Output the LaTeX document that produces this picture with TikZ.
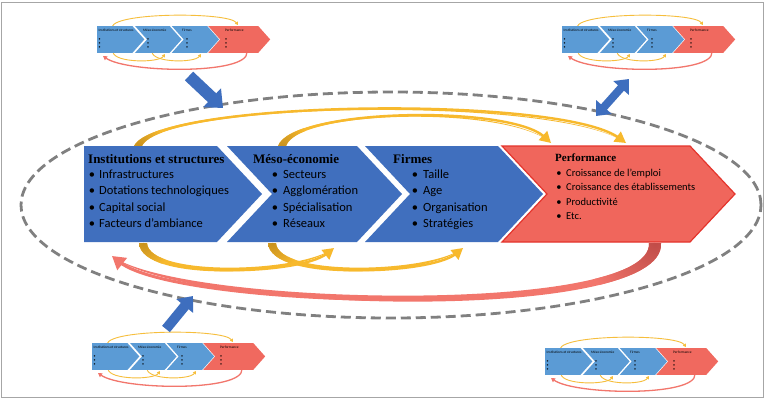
\documentclass[tikz,border=0pt]{standalone}
\usepackage{fontspec}
\setmainfont{Carlito}
\newfontfamily\hdrfont{Liberation Serif}
\usetikzlibrary{arrows.meta,calc}
\definecolor{boxblue}{RGB}{64,111,190}
\definecolor{boxred}{RGB}{240,102,92}
\definecolor{boxredline}{RGB}{228,52,44}
\definecolor{thblue}{RGB}{91,155,213}
\definecolor{thred}{RGB}{240,105,95}
\definecolor{thgold}{RGB}{246,190,60}
\definecolor{arcgold}{RGB}{247,185,45}
\definecolor{arcgolddark}{RGB}{200,145,30}
\definecolor{arcred}{RGB}{242,118,108}
\definecolor{arcreddark}{RGB}{192,76,72}
\definecolor{arrblue}{RGB}{62,110,190}
\definecolor{dashgray}{RGB}{128,128,128}
\tikzset{
 hdr/.style={anchor=base west, inner sep=0pt, font=\hdrfont\bfseries\fontsize{13}{15}\selectfont},
 hdrsm/.style={anchor=base west, inner sep=0pt, font=\hdrfont\bfseries\fontsize{11}{13}\selectfont},
 itm/.style={anchor=base west, inner sep=0pt, font=\fontsize{12.5}{15}\selectfont},
 itmsm/.style={anchor=base west, inner sep=0pt, font=\fontsize{10.5}{13}\selectfont},
 bul/.style={anchor=base, inner sep=0pt, font=\fontsize{12.5}{15}\selectfont},
 bulsm/.style={anchor=base, inner sep=0pt, font=\fontsize{10.5}{13}\selectfont},
 thhdr/.style={anchor=base west, inner sep=0pt, font=\fontsize{3.5}{4}\selectfont},
 thbul/.style={anchor=base, inner sep=0pt, font=\fontsize{4}{4}\selectfont},
 blockarr/.style={arrblue, line cap=butt},
 goldline/.style={arcgold, line width=2.4pt},
 goldtip/.style={arcgold, line width=2.4pt, -{Triangle[length=11pt,width=12pt]}},
}
\newcommand\chevpaths[2]{%
 \fill[#1] (0,0) -- (133,0) -- (178,48) -- (133,96) -- (0,96) -- cycle;
 \fill[#1] (143,0) -- (273,0) -- (318,48) -- (273,96) -- (143,96) -- (188,48) -- cycle;
 \fill[#1] (281,0) -- (414,0) -- (459,48) -- (414,96) -- (281,96) -- (326,48) -- cycle;
 \path[#2] (418,0) -- (606,0) -- (651,48) -- (606,96) -- (418,96) -- (463,48) -- cycle;
}
\newcommand\bitem[6]{%
 \node[bul#2] (#1b) at (#3,#5) {\textbullet};
 \node[itm#2] (#1) at (#4,#5) {#6};
}
% tapered body: #1 taper path, #2 start point, #3 dark colour, #4 light colour, #5 radius
\newcommand\taperbody[5]{%
 \fill[#4] #1;
 \begin{scope}
  \clip #1;
  \shade[inner color=#3, outer color=#4] #2 circle (#5);
 \end{scope}
}
\newcommand\thumbdiag[3]{%
\begin{scope}[shift={(#1,#2)}]
 \draw[thgold, line width=0.9pt, -{Triangle[length=3pt,width=3.5pt]}] (15,1) .. controls (18,-14) and (132,-14) .. (141,-1);
 \draw[thgold, line width=0.9pt, -{Triangle[length=3pt,width=3.5pt]}] (16,26) .. controls (17,37) and (62,37) .. (68,28);
 \draw[thgold, line width=0.9pt, -{Triangle[length=3pt,width=3.5pt]}] (55,26) .. controls (56,37) and (98,37) .. (104,28);
 \draw[arcred, line width=1.3pt, -{Triangle[length=4pt,width=4.5pt]}] (150,26) .. controls (152,49) and (30,47) .. (6,30);
 \begin{scope}[xscale=0.266, yscale=0.28]
  \chevpaths{fill=thblue}{fill=thred}
 \end{scope}
 \node[thhdr] (#3h1) at (1.5,5.8) {Institutions et structures};
 \node[thhdr] (#3h2) at (46,5.8) {Méso-économie};
 \node[thhdr] (#3h3) at (85,5.8) {Firmes};
 \node[thhdr] (#3h4) at (128,5.8) {Performance};
 \foreach \bx [count=\i] in {2.5,51,90,129} {
  \foreach \by [count=\j] in {14,18,22} {
   \node[thbul] (#3b\i\j) at (\bx,\by) {\textbullet};
  }
 }
\end{scope}}
\begin{document}
\begin{tikzpicture}[x=1pt,y=-1pt]
\useasboundingbox (0,0) rectangle (765,400);
\fill[white] (0,0) rectangle (765,400);
\draw[gray!70, line width=1pt] (1.5,2.5) rectangle (763.5,397.5);

% dashed ellipse
\draw[dashgray, line width=2.8pt, dash pattern=on 10pt off 5pt] (391,205) ellipse [x radius=370pt, y radius=113pt];

% thumbnails
\thumbdiag{97}{26}{ta}
\thumbdiag{562}{26}{tb}
\thumbdiag{92}{343}{tc}
\thumbdiag{545}{348}{td}

% connection points
\coordinate (s1) at (138,146);
\coordinate (e1) at (626,143);
\coordinate (s2) at (282,146);
\coordinate (e2) at (551,143);
\coordinate (s3) at (143,243);
\coordinate (e3) at (334,248);
\coordinate (s4) at (272,243);
\coordinate (e4) at (463,248);
\coordinate (s5) at (655,243);
\coordinate (e5) at (112,256);

% top gold arcs
\draw[goldline] (s1) .. controls (160,100) and (560,95) .. ($(e1)!9pt!(560,95)$);
\taperbody{(134,146) .. controls (157,99) and (560,94) .. (e1) .. controls (560,96) and (163,101) .. (142,146) -- cycle}{(s1)}{arcgolddark}{arcgold}{28pt}
\draw[goldtip] ($(e1)!11pt!(560,95)$) -- (e1);
\draw[goldline] (s2) .. controls (295,108) and (510,105) .. ($(e2)!9pt!(510,105)$);
\taperbody{(278,146) .. controls (292,107) and (510,104) .. (e2) .. controls (510,106) and (298,109) .. (286,146) -- cycle}{(s2)}{arcgolddark}{arcgold}{28pt}
\draw[goldtip] ($(e2)!11pt!(510,105)$) -- (e2);

% bottom gold arcs
\draw[goldline] (s3) .. controls (145,280) and (300,275) .. ($(e3)!9pt!(300,275)$);
\taperbody{(139,243) .. controls (141,283) and (300,277) .. (e3) .. controls (300,273) and (149,277) .. (147,243) -- cycle}{(s3)}{arcgolddark}{arcgold}{28pt}
\draw[goldtip] ($(e3)!11pt!(300,275)$) -- (e3);
\draw[goldline] (s4) .. controls (274,280) and (430,275) .. ($(e4)!9pt!(430,275)$);
\taperbody{(268,243) .. controls (270,283) and (430,277) .. (e4) .. controls (430,273) and (278,277) .. (276,243) -- cycle}{(s4)}{arcgolddark}{arcgold}{28pt}
\draw[goldtip] ($(e4)!11pt!(430,275)$) -- (e4);

% red return arc
\draw[arcred, line width=3pt] (s5) .. controls (660,320) and (180,310) .. ($(e5)!10pt!(180,310)$);
\taperbody{(649,243) .. controls (653,316) and (180,306) .. (e5) .. controls (180,313) and (667,325) .. (661,243) -- cycle}{(s5)}{arcreddark}{arcred}{70pt}
\draw[arcred, line width=3pt, -{Triangle[length=13pt,width=15pt]}] ($(e5)!13pt!(180,310)$) -- (e5);

% main chevrons
\begin{scope}[shift={(84,146)}]
 \chevpaths{fill=boxblue}{fill=boxred, draw=boxredline, line width=1.2pt}
\end{scope}

% texts
\node[hdr] (h1) at (88,163) {Institutions et structures};
\bitem{i11}{}{92}{99}{178.5}{Infrastructures}
\bitem{i12}{}{92}{99}{194.8}{Dotations technologiques}
\bitem{i13}{}{92}{99}{211}{Capital social}
\bitem{i14}{}{92}{99}{227.2}{Facteurs d’ambiance}

\node[hdr] (h2) at (253,163) {Méso-économie};
\bitem{i21}{}{275}{283}{178.5}{Secteurs}
\bitem{i22}{}{275}{283}{194.8}{Agglomération}
\bitem{i23}{}{275}{283}{211}{Spécialisation}
\bitem{i24}{}{275}{283}{227.2}{Réseaux}

\node[hdr] (h3) at (393,163) {Firmes};
\bitem{i31}{}{415}{423}{178.5}{Taille}
\bitem{i32}{}{415}{423}{194.8}{Age}
\bitem{i33}{}{415}{423}{211}{Organisation}
\bitem{i34}{}{415}{423}{227.2}{Stratégies}

\node[hdrsm] (h4) at (555,161.5) {Performance};
\bitem{i41}{sm}{559}{566}{176}{Croissance de l’emploi}
\bitem{i42}{sm}{559}{566}{190.5}{Croissance des établissements}
\bitem{i43}{sm}{559}{566}{205}{Productivité}
\bitem{i44}{sm}{559}{566}{219.5}{Etc.}

% blue block arrows
\coordinate (a1t) at (189,76);
\coordinate (a1h) at (223,108);
\draw[blockarr, line width=12pt, -{Triangle[length=15pt,width=25pt]}] (a1t) -- (a1h);
\coordinate (a2a) at (596,116);
\coordinate (a2b) at (629,79);
\draw[blockarr, line width=8pt, {Triangle[length=12pt,width=20pt]}-{Triangle[length=12pt,width=20pt]}] (a2a) -- (a2b);
\coordinate (a3t) at (166,329);
\coordinate (a3h) at (193,296);
\draw[blockarr, line width=10pt, -{Triangle[length=13pt,width=21pt]}] (a3t) -- (a3h);
\end{tikzpicture}
\end{document}
